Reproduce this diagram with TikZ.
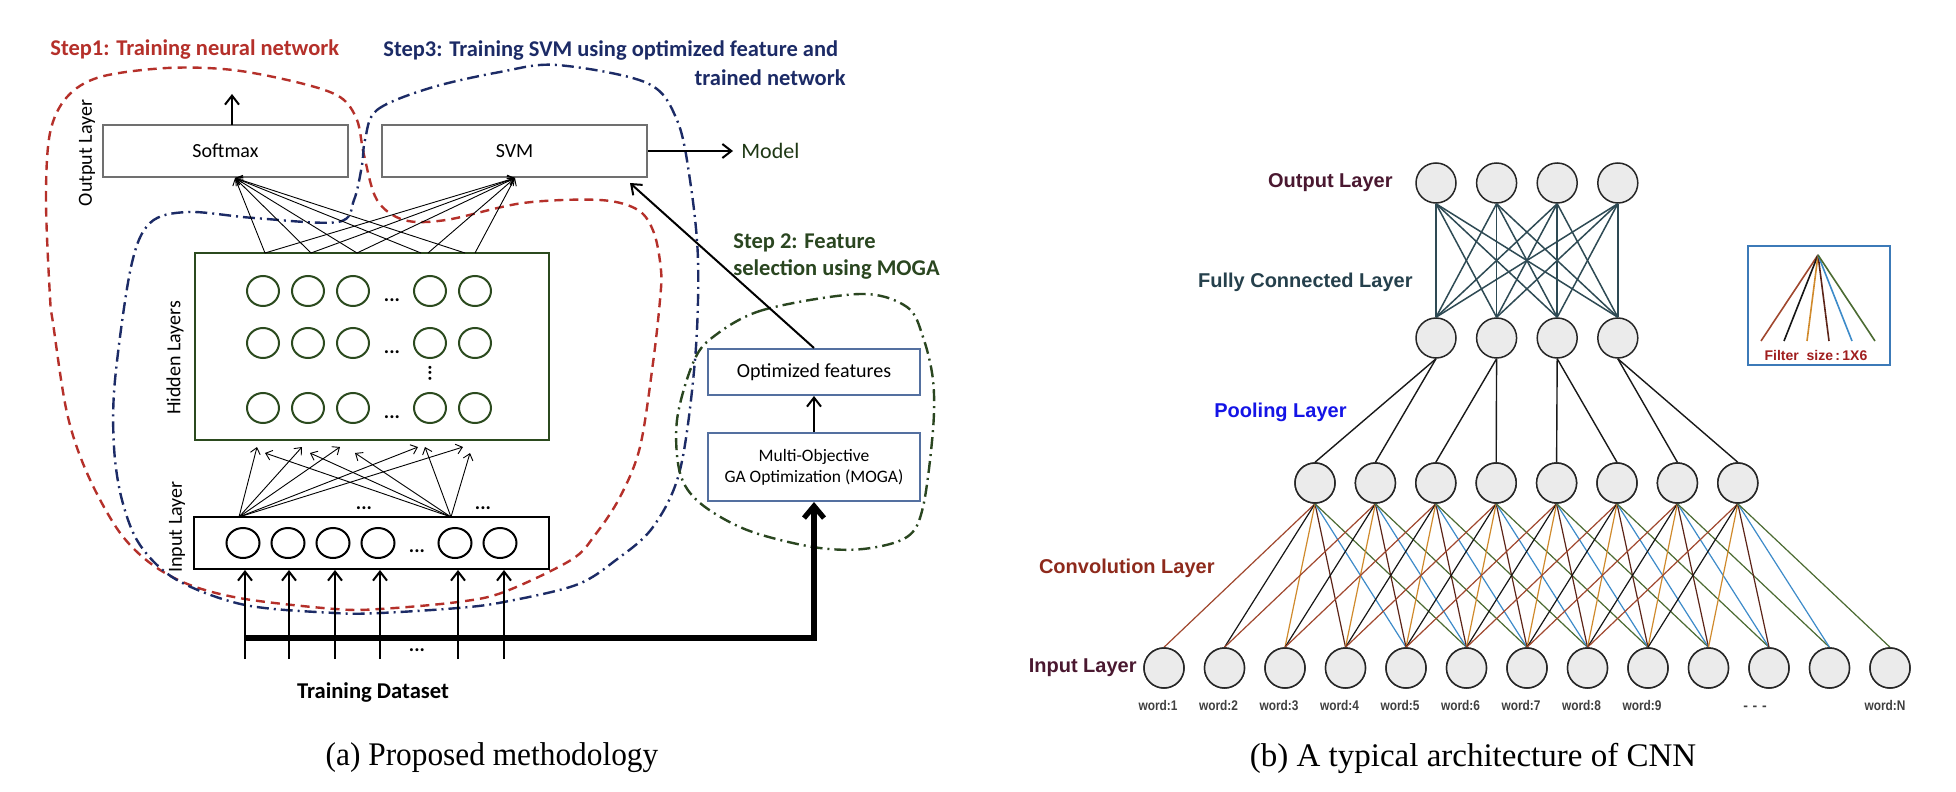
\documentclass[tikz,border=0pt]{standalone}
\usepackage{fontspec}
\newfontfamily\fCal{Carlito}
\newfontfamily\fAri{Liberation Sans}
\newfontfamily\fTim{Liberation Serif}
\usetikzlibrary{arrows.meta,shapes.geometric,calc}
\definecolor{stepred}{HTML}{B5302A}
\definecolor{stepnavy}{HTML}{1C2B66}
\definecolor{stepgreen}{HTML}{2A4620}
\definecolor{hidgreen}{HTML}{2B4A1E}
\definecolor{boxgray}{HTML}{707070}
\definecolor{optblue}{HTML}{5470A0}
\definecolor{cellfill}{HTML}{EBEBEB}
\definecolor{fcline}{HTML}{2E4A54}
\definecolor{cSienna}{HTML}{A0472E}
\definecolor{cBlack}{HTML}{151515}
\definecolor{cOrange}{HTML}{D08A2C}
\definecolor{cDbrown}{HTML}{5C2418}
\definecolor{cBlue}{HTML}{3D8BC9}
\definecolor{cGreen}{HTML}{4B6B32}
\definecolor{legblue}{HTML}{3C7AB8}
\definecolor{lblMaroon}{HTML}{4A1830}
\definecolor{lblSlate}{HTML}{25404C}
\definecolor{lblBlue}{HTML}{1414E6}
\definecolor{lblBrown}{HTML}{8E2A1C}
\definecolor{filtred}{HTML}{A01E1E}
\definecolor{modelgreen}{HTML}{1E3814}
\begin{document}
\begin{tikzpicture}[x=0.5pt,y=-0.5pt,
  steplbl/.style={font=\fCal\bfseries\fontsize{11.25pt}{13pt}\selectfont, inner sep=0pt},
  boxlbl/.style={font=\fCal\fontsize{10pt}{12pt}\selectfont},
  graybox/.style={draw=boxgray, line width=1pt, inner sep=0pt, boxlbl},
  optbox/.style={draw=optblue, line width=1pt, inner sep=0pt, align=center, font=\fCal\fontsize{8.75pt}{10.5pt}\selectfont},
  hcell/.style={ellipse, draw=hidgreen, line width=1pt, minimum width=16pt, minimum height=15pt, inner sep=0pt},
  icell/.style={ellipse, draw=black, line width=1pt, minimum width=16.5pt, minimum height=15pt, inner sep=0pt},
  dotlbl/.style={font=\fCal\bfseries\fontsize{10pt}{12pt}\selectfont, inner sep=0pt},
  rotlbl/.style={font=\fCal\fontsize{10pt}{12pt}\selectfont, rotate=90, inner sep=0pt},
  thinarr/.style={line width=0.45pt, -{Straight Barb[length=3pt,width=5pt]}},
  medarr/.style={line width=1pt, -{Straight Barb[length=4.5pt,width=7pt]}},
  thickarr/.style={line width=2.6pt, line join=miter, -{Straight Barb[length=6pt,width=10pt]}},
  redcurve/.style={draw=stepred, line width=1.2pt, dash pattern=on 4.5pt off 3pt},
  navycurve/.style={draw=stepnavy, line width=1.2pt, dash pattern=on 6pt off 2.5pt on 1pt off 2.5pt},
  greencurve/.style={draw=stepgreen, line width=1.2pt, dash pattern=on 6pt off 2.5pt on 1pt off 2.5pt},
  cnode/.style={circle, draw=black!85, line width=0.75pt, fill=cellfill, minimum size=20pt, inner sep=0pt},
  fcl/.style={draw=fcline, line width=0.75pt},
  pooll/.style={draw=black!90, line width=0.7pt},
  convl/.style={line width=0.6pt},
  cnnlbl/.style={font=\fAri\bfseries\fontsize{10pt}{12pt}\selectfont, inner sep=0pt, anchor=east},
  wlab/.style={font=\fAri\bfseries\fontsize{7pt}{8pt}\selectfont, text=black!75, inner sep=0pt, anchor=base},
  caplbl/.style={font=\fTim\fontsize{16.5pt}{19pt}\selectfont, inner sep=0pt}
]
\useasboundingbox (0,0) rectangle (1956,792);
\fill[white] (0,0) rectangle (1956,792);

% ================= LEFT PANEL =================
\draw[redcurve] plot[smooth cycle, tension=0.55] coordinates {
 (50,297) (46,200) (50,133) (67,97) (100,77) (167,68) (233,70) (300,83) (340,97) (357,120)
 (364,155) (377,200) (404,220) (446,220) (523,203) (600,200) (638,210) (654,233) (661,270)
 (660,300) (653,363) (640,447) (620,497) (595,535) (571,560) (504,592) (458,602) (380,609)
 (335,609) (245,599) (190,585) (150,563) (118,530) (87,473) (67,413) (53,323)};
\draw[navycurve] plot[smooth cycle, tension=0.55] coordinates {
 (365,140) (377,110) (430,88) (500,72) (557,65) (647,83) (677,120) (690,180) (698,260)
 (695,360) (680,470) (653,527) (616,560) (576,585) (504,602) (458,608) (380,613) (335,613)
 (245,605) (177,580) (140,545) (122,500) (114,447) (115,380) (131,267) (150,223) (188,212)
 (254,218) (338,222) (354,200) (362,165)};
\draw[greencurve] plot[smooth cycle, tension=0.55] coordinates {
 (860,294) (763,310) (713,337) (693,363) (677,420) (680,473) (700,503) (747,530) (813,547)
 (863,549) (907,537) (923,507) (933,430) (933,380) (923,337) (907,307)};

\node[steplbl, text=stepred, anchor=west] (s1) at (50,50) {Step1: Training neural network};
\node[steplbl, text=stepnavy, anchor=west] (s3a) at (383,50) {Step3: Training SVM using optimized feature and};
\node[steplbl, text=stepnavy, anchor=east] (s3b) at (846,78) {trained network};
\node[steplbl, text=stepgreen, anchor=west] (s2a) at (733,243) {Step 2: Feature};
\node[steplbl, text=stepgreen, anchor=west] (s2b) at (733,269) {selection using MOGA};

\node[graybox, minimum width=122.5pt, minimum height=26pt] (soft) at (225.5,151) {Softmax};
\node[graybox, minimum width=132.5pt, minimum height=26pt] (svm) at (514.5,151) {SVM};
\node[rotlbl] (outlbl) at (87,153) {Output Layer};
\coordinate (smup) at (232,94);
\coordinate (smbase) at (232,125);
\draw[medarr] (smbase) -- (smup);
\node[font=\fCal\fontsize{11pt}{13pt}\selectfont, text=modelgreen, inner sep=0pt, anchor=west] (model) at (741,151) {Model};
\draw[medarr, shorten >=4pt] (svm.east) -- (model.west);

\node[draw=hidgreen, line width=1pt, minimum width=177pt, minimum height=93.5pt, inner sep=0pt] (hid) at (372,346.5) {};
\node[rotlbl] (hidlbl) at (175,358) {Hidden Layers};
\foreach \r/\yy in {1/291,2/343,3/408} {
  \foreach \c/\xx in {1/263,2/308,3/353,4/430,5/475} {
    \node[hcell] (h\r\c) at (\xx,\yy) {};
  }
  \node[dotlbl] (hd\r) at (392,\yy+9) {...};
}
\node[dotlbl, rotate=90] (hvd) at (430,373) {...};

\coordinate (smin) at (235,178);
\coordinate (svin) at (515,178);
\foreach \xx [count=\n] in {265,311,357,421,465} {
  \coordinate (ht\n) at (\xx,253);
  \draw[thinarr] (ht\n) -- (smin);
}
\foreach \xx [count=\n] in {265,311,357,428,475} {
  \coordinate (hs\n) at (\xx,253);
  \draw[thinarr] (hs\n) -- (svin);
}

\node[draw=black, line width=1.2pt, minimum width=177.5pt, minimum height=26pt, inner sep=0pt] (inp) at (371.5,543) {};
\node[rotlbl] (inlbl) at (177,527) {Input Layer};
\foreach \xx [count=\n] in {243,288,333,378,455,500} {
  \node[icell] (ic\n) at (\xx,543) {};
}
\node[dotlbl] (icd) at (417,551) {...};
\node[dotlbl] (iad1) at (364,508) {...};
\node[dotlbl] (iad2) at (483,508) {...};

\coordinate (ia) at (239,517);
\coordinate (ib) at (451,517);
\foreach \xx/\yy [count=\n] in {257/447,302/447,340/447,418/447,463/447} {
  \coordinate (ea\n) at (\xx,\yy);
  \draw[thinarr] (ia) -- (ea\n);
}
\foreach \xx/\yy [count=\n] in {265/453,310/453,355/453,425/447,470/453} {
  \coordinate (eb\n) at (\xx,\yy);
  \draw[thinarr] (ib) -- (eb\n);
}

\foreach \xx [count=\n] in {245,289,335,380,458,504} {
  \coordinate (td\n) at (\xx,659);
  \coordinate (tu\n) at (\xx,570);
  \draw[medarr] (td\n) -- (tu\n);
}
\node[dotlbl] (tdd) at (417,650) {...};
\node[font=\fCal\bfseries\fontsize{11.3pt}{13pt}\selectfont, inner sep=0pt] (tds) at (373,692) {Training Dataset};

\node[optbox, minimum width=106pt, minimum height=23pt, font=\fCal\fontsize{10pt}{12pt}\selectfont] (opt) at (814,372) {Optimized features};
\node[optbox, minimum width=106pt, minimum height=34pt] (moga) at (814,467) {Multi-Objective\\GA Optimization (MOGA)};
\draw[medarr] (moga.north) -- (opt.south);
\coordinate (svtip) at (630,183);
\draw[medarr] (opt.north) -- (svtip);
\coordinate (thl) at (245,638);
\coordinate (thr) at (814,638);
\draw[thickarr] (thl) -- (thr) -- (moga.south);

\node[caplbl] (capa) at (492,758) {\scalebox{0.95}[1]{(a) Proposed methodology}};

% ================= RIGHT PANEL =================
\foreach \i in {1,...,4} {
  \node[cnode] (o\i) at ({1436+60.6*(\i-1)},183) {};
  \node[cnode] (f\i) at ({1436+60.6*(\i-1)},338) {};
}
\foreach \i in {1,...,8} \node[cnode] (c\i) at ({1315+60.4*(\i-1)},483) {};
\foreach \i in {1,...,13} \node[cnode] (w\i) at ({1164+60.5*(\i-1)},668) {};

\foreach \i in {1,...,4} \foreach \j in {1,...,4} \draw[fcl] (o\i.south) -- (f\j.north);
\foreach \a/\b in {1/1,1/2,2/3,2/4,3/5,3/6,4/7,4/8} \draw[pooll] (f\a.south) -- (c\b.north);
\foreach \k in {1,...,8} {
  \foreach \m/\col in {0/cSienna,1/cBlack,2/cOrange,3/cDbrown,4/cBlue,5/cGreen} {
    \pgfmathtruncatemacro\tgt{\k+\m}
    \draw[convl, draw=\col] (c\k.south) -- (w\tgt.north);
  }
}
\foreach \i in {1,...,8} \node[cnode] (cc\i) at (c\i) {};
\foreach \i in {1,...,13} \node[cnode] (ww\i) at (w\i) {};

\foreach \i in {1,...,9} \node[wlab] (wl\i) at ({1158+60.5*(\i-1)},710) {\scalebox{0.85}[1]{word:\i}};
\node[wlab] (wldots) at (1755,710) {-\,\,-\,\,-};
\node[wlab] (wlN) at (1885,710) {\scalebox{0.85}[1]{word:N}};

\node[cnnlbl, text=lblMaroon] (lout) at (1393,183) {Output Layer};
\node[cnnlbl, text=lblSlate] (lfc) at (1413,282) {Fully Connected Layer};
\node[cnnlbl, text=lblBlue] (lpool) at (1347,412) {Pooling Layer};
\node[cnnlbl, text=lblBrown] (lconv) at (1215,568) {Convolution Layer};
\node[cnnlbl, text=lblMaroon] (lin) at (1137,668) {Input Layer};

\node[draw=legblue, line width=1pt, minimum width=71pt, minimum height=59.5pt, inner sep=0pt] (leg) at (1819,305.5) {};
\coordinate (lap) at (1818,255);
\foreach \xx/\col [count=\n] in {1761/cSienna,1784/cBlack,1807/cOrange,1829/cDbrown,1852/cBlue,1875/cGreen} {
  \coordinate (le\n) at (\xx,341);
  \draw[line width=0.8pt, draw=\col] (lap) -- (le\n);
}
\node[font=\fAri\bfseries\fontsize{7pt}{8pt}\selectfont, text=filtred, inner sep=0pt] (legtxt) at (1816,355) {Filter~~size\,:\,1X6};

\node[caplbl] (capb) at (1473,758) {(b) A typical architecture of CNN};
\end{tikzpicture}
\end{document}
